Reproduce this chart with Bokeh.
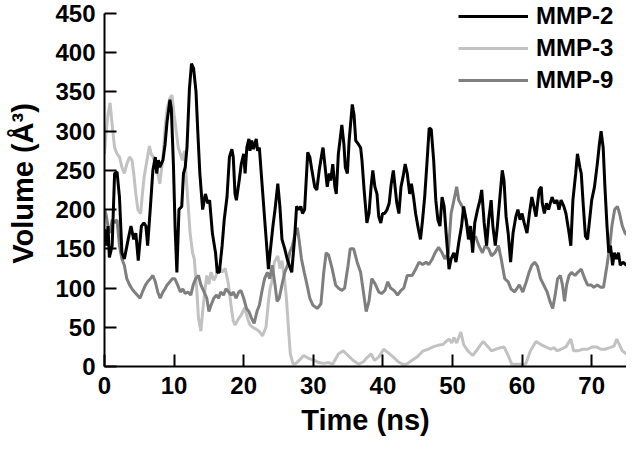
from bokeh.plotting import figure
from bokeh.models import Range1d, FixedTicker, Legend, LegendItem
from bokeh.embed import file_html
from bokeh.resources import INLINE

# ---------------- data ----------------
series_names = ["MMP-2", "MMP-3", "MMP-9"]

mmp2_t = [0, 0.3, 0.5, 0.7, 1.1, 1.45, 1.8, 2.15, 2.5, 2.85,
          3.4, 3.8, 4.2, 4.5, 4.85, 5.3, 5.65, 5.95, 6.2, 6.6,
          6.95, 7.3, 7.5, 7.75, 7.95, 8.4, 8.7, 9.0, 9.4, 9.6,
          9.9, 10.15, 10.4, 10.7, 11.1, 11.35, 11.6, 11.85, 12.2, 12.5,
          12.8, 13.15, 13.4, 13.7, 14.1, 14.5, 14.85, 15.1, 15.5, 15.95,
          16.2, 16.5, 16.9, 17.2, 17.6, 17.95, 18.3, 18.5, 18.75, 18.95,
          19.35, 19.65, 20.0, 20.2, 20.45, 20.75, 20.9, 21.15, 21.4, 21.8,
          22.0, 22.25, 22.6, 22.95, 23.3, 23.55, 23.9, 24.2, 24.5, 24.9,
          25.2, 25.5, 25.9, 26.25, 26.55, 26.9, 27.3, 27.6, 27.95, 28.2,
          28.45, 28.75, 29.2, 29.5, 29.8, 30.2, 30.5, 30.85, 31.3, 31.4,
          31.7, 32.0, 32.3, 32.5, 32.8, 33.1, 33.3, 33.6, 34.1, 34.4,
          34.6, 34.9, 35.15, 35.6, 35.85, 36.1, 36.5, 36.8, 37.0, 37.3,
          37.7, 38.0, 38.3, 38.55, 38.85, 39.15, 39.4, 39.7, 39.95, 40.25,
          40.6, 40.9, 41.2, 41.5, 41.75, 42.0, 42.3, 42.6, 42.9, 43.2,
          43.5, 43.85, 44.1, 44.4, 44.7, 45.1, 45.4, 45.7, 46.0, 46.35,
          46.65, 46.95, 47.3, 47.6, 47.9, 48.2, 48.5, 48.8, 49.15, 49.5,
          49.8, 50.2, 50.5, 50.9, 51.3, 51.6, 51.95, 52.3, 52.6, 52.9,
          53.2, 53.6, 53.95, 54.2, 54.55, 54.9, 55.2, 55.55, 55.8, 56.15,
          56.45, 56.85, 57.15, 57.4, 57.7, 58.0, 58.35, 58.7, 59.1, 59.4,
          59.7, 60.0, 60.3, 60.7, 61.05, 61.4, 61.7, 62.0, 62.45, 62.75,
          62.9, 63.2, 63.5, 63.8, 64.3, 64.65, 65.0, 65.3, 65.6, 66.0,
          66.3, 66.75, 67.0, 67.3, 67.7, 67.95, 68.3, 68.5, 68.8, 69.1,
          69.4, 69.7, 70.0, 70.4, 70.8, 71.1, 71.35, 71.65, 71.9, 72.2,
          72.45, 72.7, 73.0, 73.25, 73.55, 73.85, 74.1, 74.5, 75.0]
mmp2_v = [175, 154, 179, 139, 154, 246, 248, 216, 145, 137,
          162, 179, 162, 170, 135, 179, 183, 179, 154, 204,
          250, 267, 246, 263, 254, 263, 283, 313, 340, 329,
          258, 175, 120, 200, 204, 246, 254, 279, 354, 386,
          380, 350, 300, 246, 200, 220, 208, 212, 170, 145,
          120, 120, 154, 187, 216, 267, 277, 267, 220, 212,
          237, 258, 271, 246, 279, 290, 275, 288, 277, 290,
          275, 279, 237, 195, 154, 124, 154, 179, 200, 233,
          204, 162, 150, 137, 129, 120, 162, 204, 200, 204,
          195, 200, 273, 267, 250, 229, 225, 250, 275, 279,
          254, 229, 246, 237, 258, 229, 220, 271, 308, 283,
          254, 246, 288, 334, 321, 288, 283, 279, 262, 225,
          183, 195, 229, 250, 229, 220, 191, 183, 195, 195,
          200, 208, 233, 250, 229, 208, 195, 229, 242, 258,
          246, 220, 233, 216, 195, 175, 162, 187, 216, 262,
          304, 302, 262, 212, 187, 179, 216, 204, 162, 124,
          137, 145, 133, 158, 179, 204, 187, 162, 179, 145,
          183, 200, 212, 225, 183, 154, 187, 212, 179, 154,
          179, 220, 250, 237, 191, 170, 133, 170, 191, 200,
          187, 195, 183, 170, 195, 216, 204, 191, 225, 229,
          208, 195, 208, 200, 216, 208, 212, 200, 212, 204,
          195, 170, 154, 212, 246, 271, 254, 246, 204, 166,
          162, 187, 212, 229, 258, 283, 300, 279, 229, 179,
          145, 154, 129, 145, 137, 145, 129, 133, 129]

mmp3_t = [0, 0.2, 0.5, 0.8, 1.1, 1.45, 1.8, 2.15, 2.5, 2.85,
          3.2, 3.6, 3.95, 4.2, 4.5, 4.8, 5.2, 5.4, 5.7, 6.1,
          6.45, 6.7, 7.0, 7.4, 7.75, 7.95, 8.4, 8.7, 9.0, 9.4,
          9.7, 10.0, 10.25, 10.6, 10.9, 11.2, 11.5, 11.7, 12.0, 12.3,
          12.65, 12.9, 13.25, 13.5, 13.85, 14.1, 14.4, 14.7, 15.0, 15.3,
          15.7, 16.0, 16.4, 16.9, 17.35, 17.8, 18.05, 18.3, 18.5, 18.75,
          19.2, 19.65, 20.15, 20.6, 20.9, 21.3, 21.7, 22.2, 22.7, 23.2,
          23.5, 23.8, 24.1, 24.4, 24.9, 25.2, 25.5, 25.85, 26.1, 26.4,
          26.7, 27.1, 27.5, 28.0, 28.6, 29.4, 30.1, 30.8, 31.5, 32.2,
          32.8, 33.6, 34.3, 35.0, 35.7, 36.5, 37.2, 37.8, 38.3, 38.8,
          39.4, 40.1, 40.7, 41.5, 42.2, 42.8, 43.4, 44.2, 44.9, 45.8,
          46.5, 47.2, 47.9, 48.6, 49.1, 49.5, 49.9, 50.2, 50.6, 51.2,
          51.6, 52.2, 52.9, 53.6, 54.4, 55.0, 55.6, 56.2, 56.9, 57.4,
          58.0, 58.5, 59.0, 59.6, 60.5, 61.2, 62.0, 62.7, 63.4, 64.1,
          64.6, 65.0, 65.6, 66.3, 67.0, 67.4, 68.0, 68.7, 69.4, 70.1,
          70.7, 71.3, 71.9, 72.6, 73.2, 73.6, 74.4, 75.0]
mmp3_v = [271, 296, 321, 336, 308, 279, 271, 267, 254, 246,
          258, 267, 263, 246, 220, 200, 195, 216, 242, 263,
          281, 271, 267, 254, 242, 233, 267, 304, 329, 342,
          346, 321, 304, 279, 271, 263, 275, 246, 208, 170,
          145, 137, 99, 62, 45, 70, 95, 116, 105, 120,
          110, 115, 129, 120, 125, 105, 87, 70, 58, 53,
          60, 66, 75, 60, 53, 50, 48, 45, 39, 50,
          78, 100, 110, 133, 141, 125, 135, 112, 91, 53,
          16, 3, 4, 8, 14, 10, 8, 5, 4, 5,
          3, 16, 20, 14, 8, 3, 6, 12, 16, 8,
          12, 22, 18, 12, 6, 3, 3, 8, 12, 20,
          22, 25, 27, 28, 32, 35, 30, 37, 30, 44,
          28, 20, 14, 22, 32, 26, 20, 22, 24, 25,
          14, 3, 3, 3, 3, 20, 32, 28, 25, 22,
          24, 20, 22, 25, 35, 20, 20, 22, 22, 25,
          25, 22, 22, 24, 26, 35, 20, 16]

mmp9_t = [0, 0.2, 0.5, 0.8, 1.1, 1.45, 1.8, 2.15, 2.5, 2.85,
          3.2, 3.6, 3.95, 4.3, 4.7, 5.1, 5.45, 5.9, 6.2, 6.6,
          6.95, 7.3, 7.65, 8.0, 8.4, 8.7, 9.0, 9.4, 9.75, 10.1,
          10.5, 10.9, 11.25, 11.6, 12.0, 12.4, 12.75, 13.1, 13.5, 13.85,
          14.3, 14.7, 15.0, 15.3, 15.7, 16.1, 16.4, 16.7, 17.1, 17.45,
          17.85, 18.2, 18.5, 18.9, 19.3, 19.6, 20.0, 20.4, 20.75, 21.1,
          21.5, 21.9, 22.25, 22.6, 23.0, 23.4, 23.75, 24.1, 24.5, 24.8,
          25.1, 25.5, 25.9, 26.3, 26.6, 27.0, 27.3, 27.7, 27.95, 28.3,
          28.7, 29.1, 29.5, 29.95, 30.6, 31.1, 31.5, 31.85, 32.2, 32.7,
          33.2, 33.6, 34.1, 34.5, 35.0, 35.3, 35.8, 36.3, 36.8, 37.2,
          37.6, 38.0, 38.4, 38.9, 39.4, 39.8, 40.3, 40.7, 41.1, 41.6,
          42.1, 42.6, 43.0, 43.5, 44.2, 44.7, 45.2, 45.7, 46.2, 46.6,
          47.1, 47.5, 48.0, 48.5, 48.9, 49.4, 49.8, 50.3, 50.6, 50.9,
          51.4, 51.85, 52.35, 52.8, 53.3, 53.8, 54.3, 54.7, 55.2, 55.6,
          56.1, 56.6, 57.0, 57.5, 58.0, 58.4, 58.9, 59.3, 59.6, 60.1,
          60.6, 61.0, 61.4, 61.8, 62.2, 62.65, 63.1, 63.6, 64.0, 64.4,
          64.75, 65.1, 65.5, 65.8, 66.1, 66.4, 66.75, 67.1, 67.6, 68.0,
          68.5, 69.0, 69.4, 69.9, 70.3, 70.8, 71.3, 71.7, 72.2, 72.6,
          72.9, 73.3, 73.7, 74.0, 74.4, 74.8, 75.0]
mmp9_v = [200, 195, 179, 170, 187, 183, 187, 154, 137, 129,
          112, 104, 99, 95, 91, 87, 95, 104, 108, 112,
          116, 108, 95, 87, 95, 99, 104, 108, 112, 112,
          104, 95, 99, 93, 95, 91, 104, 112, 116, 104,
          95, 87, 70, 78, 87, 91, 87, 95, 91, 99,
          95, 91, 95, 87, 95, 97, 87, 74, 70, 62,
          55, 70, 78, 95, 112, 120, 112, 129, 104, 83,
          87, 104, 120, 129, 145, 154, 166, 177, 162, 137,
          120, 104, 87, 78, 74, 80, 120, 145, 142, 125,
          104, 100, 97, 100, 129, 150, 150, 133, 120, 95,
          70, 83, 112, 105, 95, 93, 97, 108, 100, 97,
          91, 97, 100, 116, 116, 124, 133, 130, 133, 130,
          137, 145, 152, 145, 137, 145, 195, 216, 229, 212,
          204, 191, 170, 158, 166, 154, 145, 154, 150, 141,
          145, 154, 137, 112, 108, 99, 95, 100, 104, 95,
          108, 120, 129, 133, 128, 112, 104, 95, 83, 74,
          91, 112, 116, 104, 83, 104, 116, 120, 116, 120,
          124, 112, 104, 104, 101, 104, 101, 101, 129, 154,
          179, 200, 204, 195, 179, 170, 168]

x_ticks = [0, 10, 20, 30, 40, 50, 60, 70]
y_ticks = [0, 50, 100, 150, 200, 250, 300, 350, 400, 450]
x_label = "Time (ns)"
y_label = "Volume (Å³)"

# ---------------- figure ----------------
FONT = "Liberation Sans"
Y_TOP = 466.5   # frame reaches the canvas top so the legend is not cut; axis line stops at 450
p = figure(width=626, height=438, output_backend="svg", toolbar_location=None,
           x_range=Range1d(0, 75), y_range=Range1d(0, Y_TOP),
           min_border_left=104, min_border_right=0, min_border_top=0,
           min_border_bottom=70)
p.outline_line_color = None
p.background_fill_color = "white"
p.border_fill_color = "white"
p.xgrid.visible = False
p.ygrid.visible = False

p.xaxis.ticker = FixedTicker(ticks=x_ticks)
p.yaxis.ticker = FixedTicker(ticks=y_ticks)
p.yaxis.bounds = (0, 450)
for ax in (p.xaxis[0], p.yaxis[0]):
    ax.axis_line_width = 2
    ax.axis_line_color = "black"
    ax.major_tick_line_width = 2
    ax.major_tick_line_color = "black"
    ax.major_tick_in = 12
    ax.major_tick_out = 0
    ax.minor_tick_line_color = None
    ax.major_label_text_font = FONT
    ax.major_label_text_font_style = "bold"
    ax.major_label_text_font_size = "24px"
    ax.major_label_text_color = "black"
    ax.axis_label_text_font = FONT
    ax.axis_label_text_font_style = "bold"
    ax.axis_label_text_font_size = "29px"
    ax.axis_label_text_color = "black"

p.xaxis.axis_label = x_label
p.yaxis.axis_label = y_label
p.xaxis.major_label_standoff = 10
p.xaxis.axis_label_standoff = 7
p.yaxis.major_label_standoff = 9
p.yaxis.axis_label_standoff = 13

r3 = p.line(mmp3_t, mmp3_v, line_color="#c2c2c2", line_width=3)
r9 = p.line(mmp9_t, mmp9_v, line_color="#7f7f7f", line_width=3)
r2 = p.line(mmp2_t, mmp2_v, line_color="black", line_width=3)

legend = Legend(items=[LegendItem(label=series_names[0], renderers=[r2]),
                       LegendItem(label=series_names[1], renderers=[r3]),
                       LegendItem(label=series_names[2], renderers=[r9])],
                location=(354, 272), padding=0, spacing=4,
                glyph_width=70, glyph_height=28, label_height=28,
                label_standoff=8, background_fill_alpha=0,
                border_line_color=None, margin=0,
                label_text_font=FONT, label_text_font_style="bold",
                label_text_font_size="24px", label_text_color="black")
p.add_layout(legend, "center")

open("out.html", "w").write(file_html(p, INLINE))
